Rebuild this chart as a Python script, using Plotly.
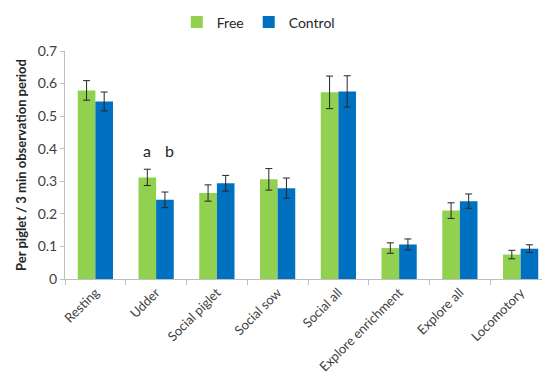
import plotly.graph_objects as go

categories = ["Resting", "Udder", "Social piglet", "Social sow", "Social all",
              "Explore enrichment", "Explore all", "Locomotory"]
free_vals = [0.579, 0.312, 0.264, 0.306, 0.573, 0.095, 0.210, 0.075]
free_err = [0.030, 0.025, 0.025, 0.033, 0.050, 0.016, 0.024, 0.013]
control_vals = [0.545, 0.243, 0.294, 0.279, 0.576, 0.106, 0.239, 0.093]
control_err = [0.029, 0.024, 0.024, 0.031, 0.048, 0.017, 0.022, 0.012]
y_ticks = [0, 0.1, 0.2, 0.3, 0.4, 0.5, 0.6, 0.7]
y_tick_labels = ["0", "0.1", "0.2", "0.3", "0.4", "0.5", "0.6", "0.7"]

FONT = "Lato, Carlito, 'Open Sans', sans-serif"
err_style = dict(type="data", thickness=1, width=3.5, color="#262626")

fig = go.Figure()
fig.add_trace(go.Bar(name="Free", x=categories, y=free_vals,
                     marker=dict(color="#92D050", line=dict(width=0)),
                     error_y=dict(array=free_err, **err_style)))
fig.add_trace(go.Bar(name="Control", x=categories, y=control_vals,
                     marker=dict(color="#0070C0", line=dict(width=0)),
                     error_y=dict(array=control_err, **err_style)))

fig.add_annotation(x=categories[1], y=0.395, text="a", showarrow=False,
                   xshift=-9, font=dict(size=16, color="#262626", family=FONT))
fig.add_annotation(x=categories[1], y=0.395, text="b", showarrow=False,
                   xshift=13, font=dict(size=16, color="#262626", family=FONT))

fig.update_layout(
    width=550, height=376,
    margin=dict(l=57, r=7, t=43, b=105, autoexpand=False),
    plot_bgcolor="white", paper_bgcolor="white",
    barmode="group", bargap=0.42, bargroupgap=0,
    font=dict(family=FONT, size=14, color="#404040"),
    showlegend=True,
    legend=dict(orientation="h", x=0.23, xanchor="left", y=1.125, yanchor="middle",
                font=dict(size=14, color="#262626"),
                itemwidth=30, traceorder="normal", tracegroupgap=0),
    xaxis=dict(showline=True, linecolor="#bfbfbf", linewidth=1,
               ticks="outside", tickson="boundaries", ticklen=5, tickcolor="#bfbfbf",
               tickangle=-45, tickfont=dict(size=13, color="#404040"),
               showgrid=False),
    yaxis=dict(range=[0, 0.7], tickvals=y_ticks, ticktext=y_tick_labels,
               showline=True, linecolor="#bfbfbf", linewidth=1,
               ticks="outside", ticklen=4, tickcolor="#bfbfbf",
               showgrid=False, zeroline=False,
               tickfont=dict(size=14, color="#404040"),
               title=dict(text="<b>Per piglet / 3 min observation period</b>",
                          font=dict(size=13, color="#262626"), standoff=8)),
)

fig.write_html("out.html")
